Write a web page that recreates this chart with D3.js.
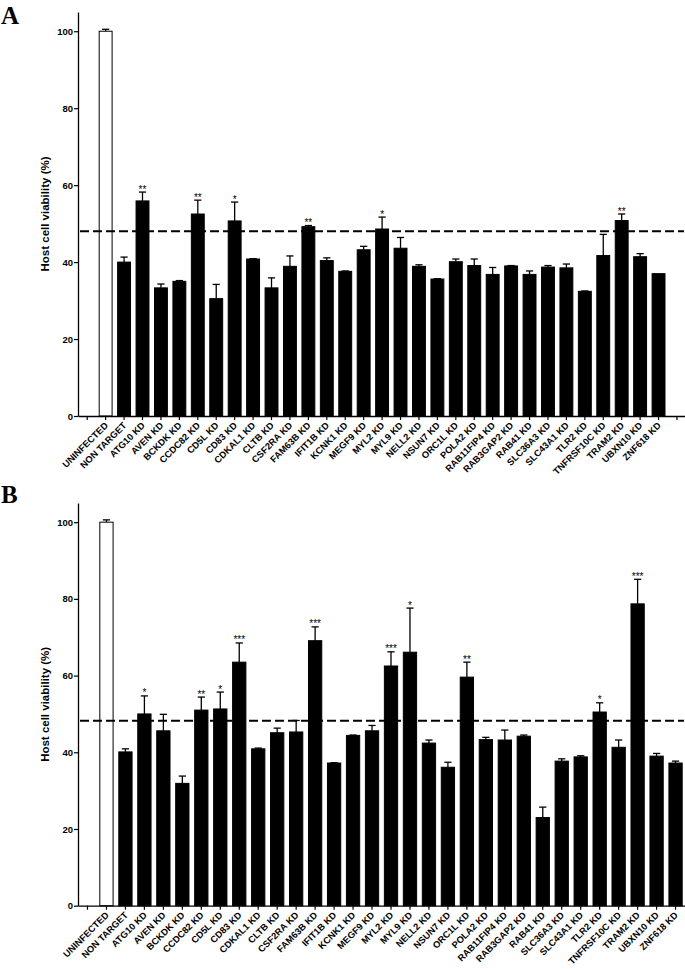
<!DOCTYPE html>
<html><head><meta charset="utf-8">
<script src="https://cdn.jsdelivr.net/npm/d3@7/dist/d3.min.js"></script>
<style>
body{margin:0;background:#fff;}
svg{display:block;font-family:"Liberation Sans",Arial,sans-serif;}
svg text{fill:#000;}
</style></head>
<body><svg id="chart" width="685" height="969"></svg>
<script>
const categories = ["", "UNINFECTED", "NON TARGET", "ATG10 KD", "AVEN KD", "BCKDK KD", "CCDC82 KD", "CD5L KD", "CD83 KD", "CDKAL1 KD", "CLTB KD", "CSF2RA KD", "FAM63B KD", "IFIT1B KD", "KCNK1 KD", "MEGF9 KD", "MYL2 KD", "MYL9 KD", "NELL2 KD", "NSUN7 KD", "ORC1L KD", "POLA2 KD", "RAB11FIP4 KD", "RAB3GAP2 KD", "RAB41 KD", "SLC36A3 KD", "SLC43A1 KD", "TLR2 KD", "TNFRSF10C KD", "TRAM2 KD", "UBXN10 KD", "ZNF618 KD", " "];

// Panel A
const valuesA = [null, 100, 40.0, 55.9, 33.3, 35.0, 52.5, 30.5, 50.7, 40.8, 33.3, 38.9, 49.2, 40.4, 37.6, 43.2, 48.6, 43.6, 38.9, 35.6, 40.1, 39.1, 36.8, 39.0, 36.8, 38.7, 38.5, 32.4, 41.7, 50.8, 41.4, 37.0, null];
const errorsA = [null, 0.5, 1.3, 2.3, 1.0, 0.2, 3.6, 3.7, 4.9, 0.1, 2.6, 2.7, 0.3, 0.7, 0.1, 0.9, 3.1, 2.8, 0.4, 0.1, 0.7, 1.7, 1.8, 0.1, 0.9, 0.4, 1.0, 0.1, 5.5, 1.7, 0.8, 0.0, null];
const sigA = ["", "", "", "**", "", "", "**", "", "*", "", "", "", "**", "", "", "", "*", "", "", "", "", "", "", "", "", "", "", "", "", "**", "", "", ""];
const thresholdA = 48.0;

// Panel B
const valuesB = [null, 100, 40.1, 50.0, 45.6, 31.9, 51.0, 51.3, 63.5, 40.9, 45.1, 45.3, 69.1, 37.2, 44.4, 45.6, 62.5, 66.1, 42.4, 36.1, 59.6, 43.3, 43.2, 44.2, 23.0, 37.7, 38.8, 50.5, 41.3, 78.7, 39.0, 37.2, null];
const errorsB = [null, 0.6, 0.8, 4.7, 4.3, 1.9, 3.4, 4.4, 5.0, 0.2, 1.2, 3.0, 3.6, 0.1, 0.1, 1.4, 3.7, 11.5, 0.8, 1.3, 3.9, 0.6, 2.6, 0.3, 2.7, 0.6, 0.3, 2.4, 1.9, 6.4, 0.7, 0.5, null];
const sigB = ["", "", "", "*", "", "", "**", "*", "***", "", "", "", "***", "", "", "", "***", "*", "", "", "**", "", "", "", "", "", "", "*", "", "***", "", "", ""];
const thresholdB = 48.2;

const yTicks = [0, 20, 40, 60, 80, 100];
const yLabel = "Host cell viability (%)";

const svg = d3.select("#chart");

function panel(opts) {
  const {letter, values, errors, sig, threshold, top, bottom, xRange, letterY} = opts;
  const g = svg.append("g");
  const x = d3.scaleBand().domain(categories.map((c, i) => i)).range(xRange).paddingInner(0.3).paddingOuter(0.15);
  const y = d3.scaleLinear().domain([0, 105]).range([bottom, top]);

  g.append("text").attr("x", 1).attr("y", letterY).text(letter)
    .style("font-family", "'Liberation Serif','Times New Roman',serif")
    .style("font-weight", "bold").style("font-size", "25px");

  g.append("text")
    .attr("transform", `translate(49,${(y(0) + y(105)) / 2}) rotate(-90)`)
    .attr("text-anchor", "middle")
    .style("font-weight", "bold").style("font-size", "11.5px")
    .text(yLabel);

  const data = categories.map((c, i) => ({i, c, v: values[i], e: errors[i], s: sig[i]})).filter(d => d.v != null);

  g.selectAll("rect.bar").data(data).enter().append("rect")
    .attr("x", d => x(d.i))
    .attr("width", x.bandwidth())
    .attr("y", d => y(d.v))
    .attr("height", d => y(0) - y(d.v))
    .attr("fill", d => d.i === 1 ? "#fff" : "#000")
    .attr("stroke", "#000").attr("stroke-width", 1);

  const eb = g.selectAll("g.err").data(data.filter(d => d.e > 0)).enter().append("g");
  eb.append("line")
    .attr("x1", d => x(d.i) + x.bandwidth() / 2).attr("x2", d => x(d.i) + x.bandwidth() / 2)
    .attr("y1", d => y(d.v)).attr("y2", d => y(d.v + d.e))
    .attr("stroke", "#000").attr("stroke-width", 1.3);
  eb.append("line")
    .attr("x1", d => x(d.i) + x.bandwidth() / 2 - 3.6).attr("x2", d => x(d.i) + x.bandwidth() / 2 + 3.6)
    .attr("y1", d => y(d.v + d.e)).attr("y2", d => y(d.v + d.e))
    .attr("stroke", "#000").attr("stroke-width", 1.3);

  g.selectAll("text.sig").data(data.filter(d => d.s)).enter().append("text")
    .attr("x", d => x(d.i) + x.bandwidth() / 2)
    .attr("y", d => y(d.v + d.e) + 0.5)
    .attr("text-anchor", "middle")
    .attr("fill", "#000")
    .style("font-family", "'Liberation Sans',Arial,sans-serif")
    .style("font-size", "10px")
    .text(d => d.s);

  g.append("line")
    .attr("x1", xRange[0] + 2).attr("x2", Math.min(xRange[1], 684))
    .attr("y1", y(threshold)).attr("y2", y(threshold))
    .attr("stroke", "#000").attr("stroke-width", 2).attr("stroke-dasharray", "9,4");

  const ya = g.append("g").attr("transform", `translate(${xRange[0]},0)`)
    .call(d3.axisLeft(y).tickValues(yTicks).tickSize(4).tickPadding(1).tickSizeOuter(0));
  ya.select(".domain").attr("stroke-width", 1.3);
  ya.selectAll("line").attr("stroke-width", 1.2);
  ya.selectAll("text").attr("fill", "#000").style("font-weight", "bold").style("font-size", "9.5px").style("font-family", "'Liberation Sans',Arial,sans-serif");

  const xa = g.append("g").attr("transform", `translate(0,${bottom})`)
    .call(d3.axisBottom(x).tickSize(4).tickSizeOuter(0).tickFormat(i => categories[i]));
  xa.select(".domain").attr("stroke-width", 1.3);
  xa.selectAll("line").attr("stroke-width", 1.2);
  xa.selectAll("text")
    .attr("text-anchor", "end")
    .attr("dy", 0).attr("dx", 0)
    .attr("transform", "translate(3,10) rotate(-45)")
    .attr("y", 0).attr("x", 0)
    .attr("fill", "#000")
    .style("font-weight", "bold").style("font-size", "9.3px").style("font-family", "'Liberation Sans',Arial,sans-serif");
}

panel({letter: "A", values: valuesA, errors: errorsA, sig: sigA, threshold: thresholdA,
  top: 12, bottom: 416, xRange: [78, 78 + 33 * 18.43], letterY: 24});
panel({letter: "B", values: valuesB, errors: errorsB, sig: sigB, threshold: thresholdB,
  top: 503, bottom: 905.7, xRange: [78, 78 + 33 * 18.97], letterY: 503});
</script></body></html>
